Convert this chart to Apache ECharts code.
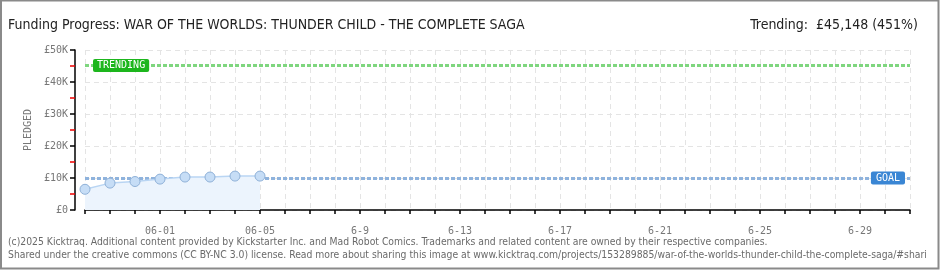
<!DOCTYPE html>
<html>
<head>
<meta charset="utf-8">
<script src="https://cdn.jsdelivr.net/npm/echarts@6/dist/echarts.min.js"></script>
<style>
html,body{margin:0;padding:0;background:#fff;}
#chart{width:940px;height:270px;}
</style>
</head>
<body>
<div id="chart"></div>
<script>
// ---- data ----
const categories = ['05-29','05-30','05-31','06-01','06-02','06-03','06-04','06-05','06-06','06-07','06-08','6-9','6-10','6-11','6-12','6-13','6-14','6-15','6-16','6-17','6-18','6-19','6-20','6-21','6-22','6-23','6-24','6-25','6-26','6-27','6-28','6-29','6-30','7-1'];
const pledged = [6470, 8400, 8900, 9650, 10300, 10300, 10600, 10600];
const goal = 10000;
const trending = 45148;
const yTickLabels = ['£0','£10K','£20K','£30K','£40K','£50K'];
const titleText = 'Funding Progress: WAR OF THE WORLDS: THUNDER CHILD - THE COMPLETE SAGA';
const trendText = 'Trending:  £45,148 (451%)';
const footer1 = '(c)2025 Kicktraq. Additional content provided by Kickstarter Inc. and Mad Robot Comics. Trademarks and related content are owned by their respective companies.';
const footer2 = 'Shared under the creative commons (CC BY-NC 3.0) license. Read more about sharing this image at www.kicktraq.com/projects/153289885/war-of-the-worlds-thunder-child-the-complete-saga/#sharing';

const seriesData = categories.map((c, i) => i < pledged.length ? pledged[i] : null);
const mono = 'DejaVu Sans Mono';

const chart = echarts.init(document.getElementById('chart'), null, {renderer: 'canvas'});
chart.setOption({
  animation: false,
  backgroundColor: '#fff',
  grid: {left: 85, right: 30, top: 50, bottom: 60},
  title: [
    {text: titleText, left: 3, top: 13, textStyle: {fontFamily: 'DejaVu Sans Condensed', fontWeight: 'normal', fontSize: 14, color: '#222'}},
    {text: trendText, right: 17, top: 13, textStyle: {fontFamily: 'DejaVu Sans Condensed', fontWeight: 'normal', fontSize: 14, color: '#222'}}
  ],
  graphic: [
    {type: 'rect', shape: {x: 1, y: 0.5, width: 937.5, height: 268}, style: {fill: 'none', stroke: '#8a8a8a', lineWidth: 2}, silent: true},
    {type: 'text', left: 8, top: 237, style: {text: footer1, font: '10.3px "DejaVu Sans Condensed"', fill: '#6a6a6a'}},
    {type: 'text', left: 8, top: 250, style: {text: footer2, font: '10.3px "DejaVu Sans Condensed"', fill: '#6a6a6a', width: 924, overflow: 'truncate', ellipsis: ''}}
  ],
  xAxis: {
    type: 'category',
    data: categories,
    boundaryGap: false,
    offset: 10,
    axisLine: {lineStyle: {color: '#000', width: 1.5}},
    axisTick: {show: true, interval: 0, length: 4, lineStyle: {color: '#000', width: 1.5}},
    axisLabel: {
      interval: (i) => (i - 3) % 4 === 0 && i >= 3,
      fontFamily: mono, fontSize: 10, color: '#777', margin: 6
    },
    splitLine: {show: true, interval: 0, lineStyle: {color: '#e4e4e4', type: [5, 4]}}
  },
  yAxis: {
    type: 'value',
    min: 0, max: 50000, interval: 10000,
    offset: 10,
    name: 'PLEDGED',
    nameLocation: 'middle',
    nameRotate: 90,
    nameGap: 38,
    nameTextStyle: {fontFamily: mono, fontSize: 10, color: '#777'},
    axisLine: {show: true, lineStyle: {color: '#000', width: 1.5}},
    axisTick: {show: true, length: 5, lineStyle: {color: '#000', width: 1.5}},
    minorTick: {show: true, splitNumber: 2, length: 5, lineStyle: {color: '#e00', width: 1.5}},
    axisLabel: {
      formatter: (v) => yTickLabels[Math.round(v / 10000)],
      fontFamily: mono, fontSize: 10, color: '#777', margin: 7
    },
    splitLine: {show: true, lineStyle: {color: '#e4e4e4', type: [5, 4]}}
  },
  series: [{
    type: 'line',
    data: seriesData,
    symbol: 'circle',
    symbolSize: 10,
    showSymbol: true,
    connectNulls: false,
    lineStyle: {color: '#b9d5f3', width: 1.5},
    itemStyle: {color: '#c6ddf6', borderColor: '#8fb1d8', borderWidth: 1},
    areaStyle: {color: '#ecf4fd', opacity: 1},
    z: 3,
    markLine: {
      silent: true,
      symbol: 'none',
      z: 2,
      data: [
        {yAxis: trending,
         lineStyle: {color: '#7fd67f', width: 3, type: [4, 2]},
         label: {show: true, position: 'insideStart', distance: 8, formatter: 'TRENDING',
                 fontFamily: mono, fontSize: 10, color: '#fff', backgroundColor: '#1db61d',
                 padding: [2, 4, 1, 4], borderRadius: 2}},
        {yAxis: goal,
         lineStyle: {color: '#8fb3dd', width: 3, type: [4, 2]},
         label: {show: true, position: 'insideEnd', distance: 5, formatter: 'GOAL',
                 fontFamily: mono, fontSize: 10, color: '#fff', backgroundColor: '#3a86d4',
                 padding: [2, 5, 1, 5], borderRadius: 2}}
      ]
    }
  }]
});
</script>
</body>
</html>
